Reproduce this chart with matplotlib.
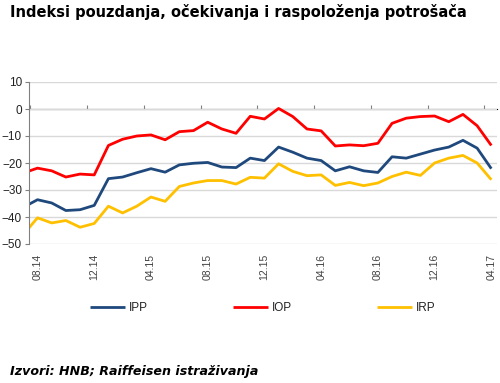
import matplotlib
matplotlib.use("Agg")
import matplotlib.pyplot as plt
import numpy as np

months = ["07.14", "08.14", "09.14", "10.14", "11.14", "12.14", "01.15", "02.15", "03.15",
          "04.15", "05.15", "06.15", "07.15", "08.15", "09.15", "10.15", "11.15", "12.15",
          "01.16", "02.16", "03.16", "04.16", "05.16", "06.16", "07.16", "08.16", "09.16",
          "10.16", "11.16", "12.16", "01.17", "02.17", "03.17", "04.17"]

ipp = [-36.4, -33.6, -34.8, -37.6, -37.3, -35.7, -25.8, -25.2, -23.6,
       -22.1, -23.4, -20.7, -20.1, -19.8, -21.5, -21.7, -18.2, -19.1,
       -14.1, -16.0, -18.2, -19.1, -22.9, -21.4, -22.9, -23.5, -17.7,
       -18.2, -16.7, -15.2, -14.1, -11.6, -14.5, -22.1]

iop = [-23.7, -21.9, -22.9, -25.2, -24.1, -24.4, -13.5, -11.2, -10.0,
       -9.6, -11.4, -8.4, -8.0, -4.9, -7.4, -9.0, -2.7, -3.7,
       0.2, -2.8, -7.4, -8.1, -13.7, -13.3, -13.6, -12.7, -5.3,
       -3.4, -2.8, -2.6, -4.7, -2.0, -6.2, -13.5]

irp = [-46.5, -40.3, -42.2, -41.3, -43.8, -42.4, -36.0, -38.5, -36.0,
       -32.6, -34.2, -28.7, -27.4, -26.5, -26.5, -27.8, -25.3, -25.6,
       -20.3, -23.1, -24.7, -24.4, -28.3, -27.2, -28.4, -27.4, -25.0,
       -23.4, -24.6, -20.0, -18.2, -17.2, -20.0, -26.2]

series_names = ["IPP", "IOP", "IRP"]
colors = ["#1f497d", "#ff0000", "#ffc000"]

title = "Indeksi pouzdanja, očekivanja i raspoloženja potrošača"
source = "Izvori: HNB; Raiffeisen istraživanja"

fig = plt.figure(figsize=(5.0, 3.83), dpi=100)
ax = fig.add_axes([29/500, 1-244/383, 468/500, 162/383])

x = np.arange(len(months))
for vals, name, c in zip([ipp, iop, irp], series_names, colors):
    ax.plot(x, vals, color=c, lw=2.0, label=name, solid_joinstyle="round", solid_capstyle="butt")

ax.set_xlim(0.4, 33.4)
ax.set_ylim(-50, 10)
ax.set_yticks(np.arange(-50, 11, 10))
ax.yaxis.grid(True, color="#d9d9d9", lw=1.0)
ax.set_axisbelow(True)
for s in ["top", "right", "bottom"]:
    ax.spines[s].set_visible(False)
ax.spines["left"].set_color("#808080")
ax.tick_params(axis="y", direction="out", length=3, color="#808080", labelsize=8.5,
               labelcolor="#222222", pad=2)
for lab in ax.get_yticklabels():
    lab.set_fontfamily("Liberation Sans")

label_idx = list(range(1, len(months), 4))
ax.set_xticks(label_idx)
ax.set_xticklabels([months[i] for i in label_idx], rotation=90, fontsize=7.5,
                   color="#444444", family="Liberation Sans")
ax.tick_params(axis="x", length=0, pad=7)

# zero axis line with tick marks at category boundaries
sec = ax.secondary_xaxis(50/60)
sec.spines["bottom"].set_color("#808080")
sec.spines["bottom"].set_linewidth(1.2)
sec.set_xticks([i - 0.5 for i in label_idx])
sec.tick_params(axis="x", direction="out", length=3, color="#808080", labelbottom=False,
                labeltop=False)

leg = fig.legend(loc="center", bbox_to_anchor=(0.525, 1-308/383), ncol=3, frameon=False,
                 fontsize=8.5, handlelength=3.0, handletextpad=0.3, columnspacing=7.2)
for t in leg.get_texts():
    t.set_fontfamily("Liberation Sans")
    t.set_color("#222222")

fig.text(10/500, 1-12/383, title, fontsize=10.5, fontweight="bold", family="DejaVu Sans",
         va="center", ha="left", color="#000000")
fig.text(10/500, 1-372/383, source, fontsize=9.1, fontweight="bold", style="italic",
         family="DejaVu Sans", va="center", ha="left", color="#000000")

fig.savefig("out.png", dpi=100)
